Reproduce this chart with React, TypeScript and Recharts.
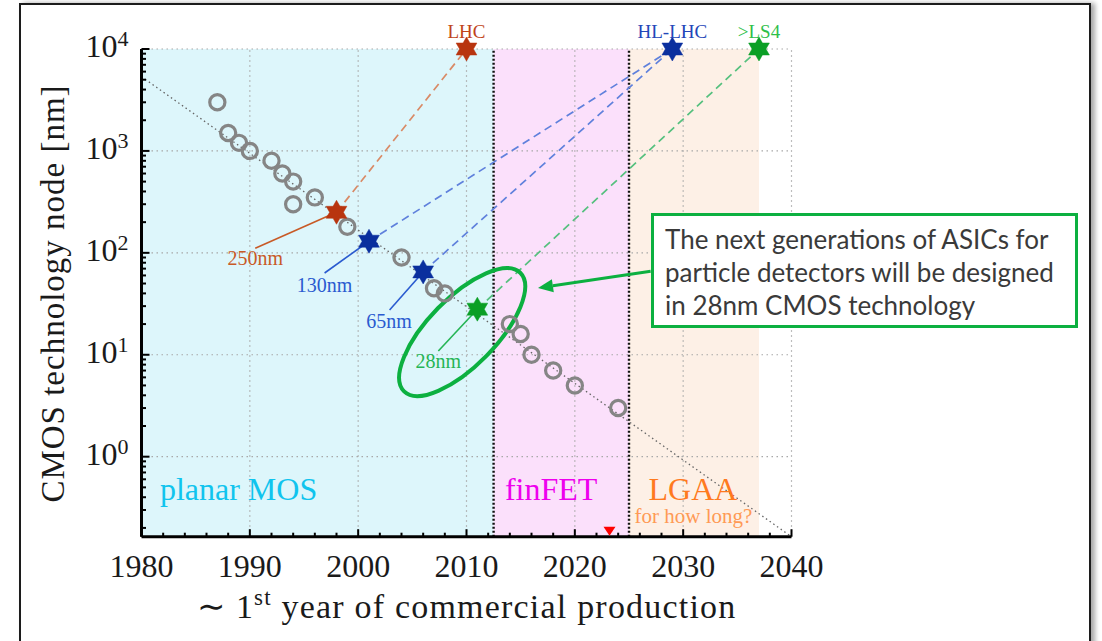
import React from 'react';
import {
  ComposedChart,
  XAxis,
  YAxis,
  Scatter,
  ReferenceLine,
  ReferenceArea,
  ReferenceDot,
} from 'recharts';

// ---------------- data ----------------
const circleYears = [1987, 1988, 1989, 1990, 1992, 1993, 1994, 1994, 1996, 1999, 2004, 2007, 2008, 2014, 2015, 2016, 2018, 2020, 2024];
const circleNodes = [3000, 1500, 1200, 1000, 800, 600, 500, 300, 350, 180, 90, 45, 40, 20, 16, 10, 7, 5, 3];

const nodeStarYears = [1998, 2001, 2006, 2011];
const nodeStarNm = [250, 130, 65, 28];
const nodeStarColors = ['#b8350f', '#0a2f9e', '#0a2f9e', '#0a9f25'];
const nodeLabels = ['250nm', '130nm', '65nm', '28nm'];
const nodeLabelColors = ['#c85a26', '#2a5bd0', '#2a5bd0', '#25b555'];
const nodeLabelYears = [1990.5, 1996.9, 2002.85, 2007.4];
const nodeLabelNm = [76, 41.3, 18.3, 7.4];
const leaderYears = [1990.5, 1996.9, 2002.9, 2007.4];
const leaderNm = [111, 63.4, 27.5, 10.9];

const targetYears = [2010, 2029, 2037];
const targetNm = [10000, 10000, 10000];
const targetLabels = ['LHC', 'HL-LHC', '>LS4'];
const targetStarColors = ['#b8350f', '#0a2f9e', '#0a9f25'];
const targetLabelColors = ['#c0441a', '#2346b8', '#2fbf4a'];

const linkFrom = [0, 1, 2, 3];
const linkTo = [0, 1, 1, 2];
const linkColors = ['#d98a66', '#5f80dc', '#5f80dc', '#55c07e'];

const trendYears = [1980, 2040];
const trendNm = [5350, 0.164];

const regionNames = ['planar MOS', 'finFET', 'LGAA'];
const regionStart = [1980, 2012.5, 2025];
const regionEnd = [2012.5, 2025, 2037];
const regionFills = ['#ddf6fb', '#fbe0fb', '#fdf0e6'];
const regionTextColors = ['#10c4ee', '#ee00ee', '#ff7a1e'];
const regionLabelYears = [1981.7, 2013.55, 2030.9];
const regionLabelNm = [0.376, 0.376, 0.376];
const regionBoundaries = [2012.5, 2025];
const lgaaNoteText = 'for how long?';
const lgaaNoteYear = 2030.95;
const lgaaNoteNm = 0.222;

const markerYear = 2023.2;

const xTicks = [1980, 1982, 1984, 1986, 1988, 1990, 1992, 1994, 1996, 1998, 2000, 2002, 2004, 2006, 2008, 2010, 2012, 2014, 2016, 2018, 2020, 2022, 2024, 2026, 2028, 2030, 2032, 2034, 2036, 2038, 2040];
const xGrid = [1990, 2000, 2010, 2020, 2030, 2040];
const yTicks = [0.2, 0.3, 0.4, 0.5, 0.6, 0.7, 0.8, 0.9, 1, 2, 3, 4, 5, 6, 7, 8, 9, 10, 20, 30, 40, 50, 60, 70, 80, 90, 100, 200, 300, 400, 500, 600, 700, 800, 900, 1000, 2000, 3000, 4000, 5000, 6000, 7000, 8000, 9000, 10000];
const yGrid = [1, 10, 100, 1000, 10000];

const X_DOMAIN = [1980, 2040];
const Y_DOMAIN = [0.164, 10000];

const ellipseYear = 2009.6;
const ellipseNm = 16.7;
const arrowFrom = { x: 2027.0, y: 66 };
const arrowTo = { x: 2016.6, y: 45.2 };

const calloutLines = [
  'The next generations of ASICs for',
  'particle detectors will be designed',
  'in 28nm CMOS technology',
];

// ---------------- helpers ----------------
const SERIF = '"Liberation Serif", "Times New Roman", serif';
const GREEN = '#0cb040';

const circleData = circleYears.map((x, i) => ({ x, y: circleNodes[i] }));
const nodeStarData = nodeStarYears.map((x, i) => ({ x, y: nodeStarNm[i], c: nodeStarColors[i] }));
const targetData = targetYears.map((x, i) => ({
  x,
  y: targetNm[i],
  c: targetStarColors[i],
  label: targetLabels[i],
  lc: targetLabelColors[i],
}));

function hexagram(cx: number, cy: number, R: number) {
  const r = R / Math.sqrt(3);
  const pts: string[] = [];
  for (let k = 0; k < 12; k++) {
    const ang = ((-90 + k * 30) * Math.PI) / 180;
    const rad = k % 2 === 0 ? R : r;
    pts.push(`${cx + rad * Math.cos(ang)},${cy + rad * Math.sin(ang)}`);
  }
  return pts.join(' ');
}

const serifStyle = { fontFamily: SERIF };

const CircleShape = (p: any) => (
  <circle cx={p.cx} cy={p.cy} r={7.6} fill="none" stroke="#858585" strokeWidth={3.2} />
);

const StarShape = (p: any) => (
  <polygon points={hexagram(p.cx, p.cy, 12)} fill={p.payload.c} stroke={p.payload.c} strokeWidth={0.5} />
);

const TargetShape = (p: any) => (
  <g>
    <polygon points={hexagram(p.cx, p.cy, 12)} fill={p.payload.c} stroke={p.payload.c} strokeWidth={0.5} />
    <text x={p.cx} y={p.cy - 11} textAnchor="middle" fontFamily={SERIF} style={serifStyle} fontSize={19} fill={p.payload.lc}>
      {p.payload.label}
    </text>
  </g>
);

const XTick = (p: any) => {
  const { x, y, payload } = p;
  const v = payload.value;
  const major = v % 10 === 0;
  return (
    <g>
      <line x1={x} x2={x} y1={y} y2={y - (major ? 7.5 : 4)} stroke="#000" strokeWidth={2} />
      {major && (
        <text x={x} y={y + 40.5} textAnchor="middle" fontFamily={SERIF} style={serifStyle} fontSize={32} fill="#1a1a1a">
          {v}
        </text>
      )}
    </g>
  );
};

const YTick = (p: any) => {
  const { x, y, payload } = p;
  const v = payload.value;
  const lg = Math.log10(v);
  const e = Math.round(lg);
  const major = Math.abs(lg - e) < 1e-6;
  return (
    <g>
      <line x1={x} x2={x + (major ? 8 : 4.5)} y1={y} y2={y} stroke="#000" strokeWidth={2} />
      {major && (
        <text x={x - 13} y={y + 8} textAnchor="end" fontFamily={SERIF} style={serifStyle} fontSize={32} fill="#1a1a1a">
          10
          <tspan dy={-11} fontSize={22}>
            {e}
          </tspan>
        </text>
      )}
    </g>
  );
};

const ArrowShape = (p: any) => {
  const { x1, y1, x2, y2 } = p;
  const dx = x2 - x1;
  const dy = y2 - y1;
  const len = Math.sqrt(dx * dx + dy * dy);
  const ux = dx / len;
  const uy = dy / len;
  const L = 15;
  const Wd = 6.5;
  const bx = x2 - ux * L;
  const by = y2 - uy * L;
  return (
    <g>
      <line x1={x1} y1={y1} x2={bx} y2={by} stroke={GREEN} strokeWidth={3} />
      <polygon
        points={`${x2},${y2} ${bx - uy * Wd},${by + ux * Wd} ${bx + uy * Wd},${by - ux * Wd}`}
        fill={GREEN}
      />
    </g>
  );
};

export default function App() {
  return (
    <div
      style={{
        position: 'absolute',
        left: 0,
        top: 0,
        width: 1102,
        height: 641,
        overflow: 'hidden',
        background: '#fff',
      }}
    >
      {/* outer frame */}
      <div
        style={{
          position: 'absolute',
          left: 19,
          top: 3,
          width: 1068,
          height: 720,
          border: '2px solid #1c1c1c',
          boxShadow: '4px 0 5px rgba(0,0,0,0.35)',
          background: '#fff',
        }}
      />
      <div style={{ position: 'absolute', left: 0, top: 0 }}>
        <ComposedChart
          width={1102}
          height={641}
          margin={{ top: 49, left: 140.5, right: 310.5, bottom: 103.3 }}
        >
          {regionNames.map((n, i) => (
            <ReferenceArea
              key={'ra' + n}
              x1={regionStart[i]}
              x2={regionEnd[i]}
              y1={Y_DOMAIN[0]}
              y2={Y_DOMAIN[1]}
              fill={regionFills[i]}
              fillOpacity={1}
              stroke="none"
              ifOverflow="visible"
            />
          ))}
          {xGrid.map((v) => (
            <ReferenceLine key={'gx' + v} x={v} stroke="#a8a8a8" strokeWidth={1.2} strokeDasharray="1.5 3.5" />
          ))}
          {yGrid.map((v) => (
            <ReferenceLine key={'gy' + v} y={v} stroke="#a8a8a8" strokeWidth={1.2} strokeDasharray="1.5 3.5" />
          ))}
          {regionBoundaries.map((v) => (
            <ReferenceLine key={'rb' + v} x={v} stroke="#111" strokeWidth={2.4} strokeDasharray="2 2" />
          ))}
          <ReferenceLine
            segment={[
              { x: trendYears[0], y: trendNm[0] },
              { x: trendYears[1], y: trendNm[1] },
            ]}
            stroke="#666"
            strokeWidth={1.3}
            strokeDasharray="1.5 3"
            ifOverflow="visible"
          />
          {linkFrom.map((f, i) => (
            <ReferenceLine
              key={'lk' + i}
              segment={[
                { x: nodeStarYears[f], y: nodeStarNm[f] },
                { x: targetYears[linkTo[i]], y: targetNm[linkTo[i]] },
              ]}
              stroke={linkColors[i]}
              strokeWidth={1.7}
              strokeDasharray="8 5"
              ifOverflow="visible"
            />
          ))}
          {nodeLabels.map((l, i) => (
            <ReferenceLine
              key={'ld' + l}
              segment={[
                { x: leaderYears[i], y: leaderNm[i] },
                { x: nodeStarYears[i], y: nodeStarNm[i] },
              ]}
              stroke={nodeLabelColors[i]}
              strokeWidth={1.6}
              ifOverflow="visible"
            />
          ))}
          {nodeLabels.map((l, i) => (
            <ReferenceDot
              key={'nl' + l}
              x={nodeLabelYears[i]}
              y={nodeLabelNm[i]}
              r={0}
              ifOverflow="visible"
              shape={(p: any) => (
                <text x={p.cx} y={p.cy} textAnchor="middle" fontFamily={SERIF} style={serifStyle} fontSize={20} fill={nodeLabelColors[i]}>
                  {l}
                </text>
              )}
            />
          ))}
          {regionNames.map((n, i) => (
            <ReferenceDot
              key={'rl' + n}
              x={regionLabelYears[i]}
              y={regionLabelNm[i]}
              r={0}
              ifOverflow="visible"
              shape={(p: any) => (
                <text
                  x={p.cx}
                  y={p.cy}
                  textAnchor={i === 2 ? 'middle' : 'start'}
                  fontFamily={SERIF}
                  style={serifStyle}
                  fontSize={32}
                  fill={regionTextColors[i]}
                >
                  {n}
                </text>
              )}
            />
          ))}
          <ReferenceDot
            x={lgaaNoteYear}
            y={lgaaNoteNm}
            r={0}
            ifOverflow="visible"
            shape={(p: any) => (
              <text x={p.cx} y={p.cy} textAnchor="middle" fontFamily={SERIF} style={serifStyle} fontSize={21} fill="#ff9a55">
                {lgaaNoteText}
              </text>
            )}
          />
          <ReferenceDot
            x={ellipseYear}
            y={ellipseNm}
            r={0}
            ifOverflow="visible"
            shape={(p: any) => (
              <ellipse
                cx={p.cx}
                cy={p.cy}
                rx={83}
                ry={34}
                fill="none"
                stroke={GREEN}
                strokeWidth={4}
                transform={`rotate(-45.6 ${p.cx} ${p.cy})`}
              />
            )}
          />
          <ReferenceLine
            segment={[arrowFrom, arrowTo]}
            ifOverflow="visible"
            shape={ArrowShape}
          />
          <XAxis
            type="number"
            dataKey="x"
            domain={X_DOMAIN}
            ticks={xTicks}
            interval={0}
            height={1}
            tickSize={0}
            tickMargin={0}
            tickLine={false}
            axisLine={{ stroke: '#000', strokeWidth: 3 }}
            tick={XTick}
          />
          <YAxis
            type="number"
            dataKey="y"
            scale="log"
            domain={Y_DOMAIN}
            ticks={yTicks}
            interval={0}
            width={1}
            tickSize={0}
            tickMargin={0}
            tickLine={false}
            axisLine={{ stroke: '#000', strokeWidth: 3 }}
            tick={YTick}
          />
          <Scatter data={circleData} shape={CircleShape} isAnimationActive={false} />
          <Scatter data={nodeStarData} shape={StarShape} isAnimationActive={false} />
          <Scatter data={targetData} shape={TargetShape} isAnimationActive={false} />
          <ReferenceDot
            x={markerYear}
            y={Y_DOMAIN[0]}
            r={0}
            ifOverflow="visible"
            shape={(p: any) => (
              <polygon
                points={`${p.cx - 6},${p.cy - 10} ${p.cx + 6},${p.cy - 10} ${p.cx},${p.cy - 1}`}
                fill="#ff0000"
              />
            )}
          />
        </ComposedChart>
      </div>
      {/* axis titles */}
      <svg
        width={1102}
        height={641}
        style={{ position: 'absolute', left: 0, top: 0, pointerEvents: 'none' }}
      >
        <text
          x={0}
          y={0}
          transform="translate(64 293.5) rotate(-90)"
          textAnchor="middle"
          fontFamily={SERIF}
          style={serifStyle}
          fontSize={33}
          letterSpacing={1}
          fill="#1a1a1a"
        >
          CMOS technology node [nm]
        </text>
        <text x={197} y={617.5} fontFamily={SERIF} style={serifStyle} fontSize={34} letterSpacing={1.2} fill="#1a1a1a">
          ∼ 1
          <tspan dy={-13} fontSize={23}>
            st
          </tspan>
          <tspan dy={13}> year of commercial production</tspan>
        </text>
      </svg>
      {/* callout box */}
      <div
        style={{
          position: 'absolute',
          left: 651,
          top: 213,
          width: 427,
          height: 115,
          border: `3px solid ${GREEN}`,
          background: '#fff',
          fontFamily: 'Lato, "Open Sans", sans-serif',
          fontSize: 26,
          lineHeight: '33px',
          color: '#3a3a3a',
          paddingLeft: 11,
          paddingTop: 7,
          boxSizing: 'border-box',
          whiteSpace: 'nowrap',
        }}
      >
        {calloutLines.map((l) => (
          <div key={l}>{l}</div>
        ))}
      </div>
    </div>
  );
}
